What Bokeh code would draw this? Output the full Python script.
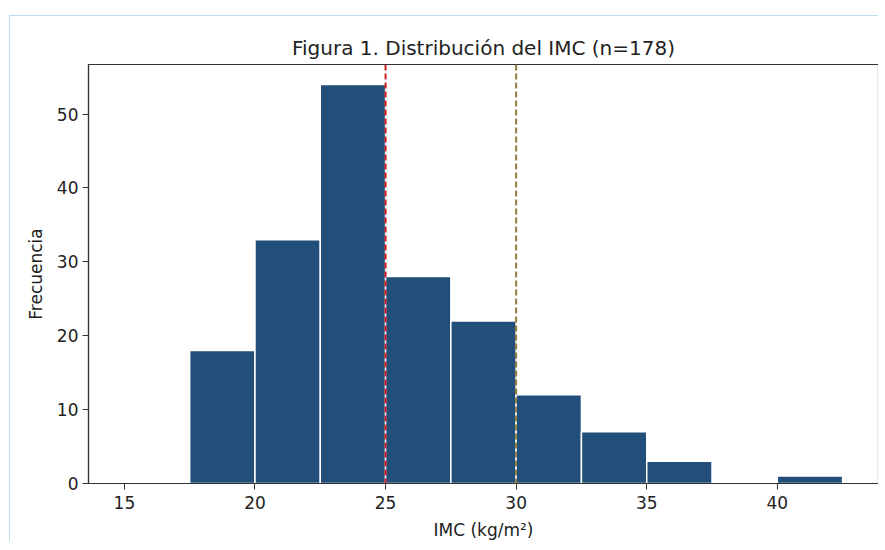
from bokeh.plotting import figure
from bokeh.models import Span, Range1d, FixedTicker, InlineStyleSheet
from bokeh.embed import file_html
from bokeh.resources import INLINE

# Data
bin_edges = [17.5, 20.0, 22.5, 25.0, 27.5, 30.0, 32.5, 35.0, 37.5, 40.0, 42.5]
counts = [18, 33, 54, 28, 22, 12, 7, 3, 0, 1]
x_ticks = [15, 20, 25, 30, 35, 40]
y_ticks = [0, 10, 20, 30, 40, 50]
ref_lines = [25, 30]
ref_colors = ["#c81e1e", "#8f7a3a"]

title = "Figura 1. Distribución del IMC (n=178)"
xlabel = "IMC (kg/m²)"
ylabel = "Frecuencia"

FONT = "DejaVu Sans"

p = figure(width=869, height=526, output_backend="svg", toolbar_location=None,
           x_range=Range1d(13.625, 43.875), y_range=Range1d(0, 56.7),
           title=title, min_border_left=78, min_border_right=1,
           min_border_top=48, min_border_bottom=58)

p.stylesheets = [InlineStyleSheet(css=":host { border-left: 1px solid #b6e0ec; border-top: 1px solid #b6e0ec; margin-left: 9px; margin-top: 15px; }")]

p.title.text_font = FONT
p.title.text_font_size = "20px"
p.title.text_font_style = "normal"
p.title.align = "center"
p.title.text_color = "#222222"
p.title.offset = 0
p.title.standoff = 9

p.quad(left=bin_edges[:-1], right=bin_edges[1:], bottom=0, top=counts,
       fill_color="#224e7a", line_color="white", line_width=1.5)

for xv, c in zip(ref_lines, ref_colors):
    p.add_layout(Span(location=xv, dimension="height", line_color=c,
                      line_width=2, line_dash="6 3"))

p.xgrid.visible = False
p.ygrid.visible = False
p.outline_line_color = "#333333"
p.outline_line_width = 1.2
p.background_fill_color = "white"
p.border_fill_color = "white"

for ax in (p.xaxis[0], p.yaxis[0]):
    ax.axis_line_color = "#333333"
    ax.axis_line_width = 1.2
    ax.major_tick_line_color = "#333333"
    ax.major_tick_in = 0
    ax.major_tick_out = 6
    ax.minor_tick_line_color = None
    ax.major_label_text_font = FONT
    ax.major_label_text_font_size = "17px"
    ax.major_label_text_color = "#222222"
    ax.axis_label_text_font = FONT
    ax.axis_label_text_font_size = "17px"
    ax.axis_label_text_font_style = "normal"
    ax.axis_label_text_color = "#222222"

p.xaxis.ticker = FixedTicker(ticks=x_ticks)
p.yaxis.ticker = FixedTicker(ticks=y_ticks)
p.xaxis.axis_label = xlabel
p.yaxis.axis_label = ylabel
p.xaxis.major_label_standoff = 6
p.yaxis.major_label_standoff = 4
p.xaxis.axis_label_standoff = 8
p.yaxis.axis_label_standoff = 8

open("out.html", "w").write(file_html(p, INLINE))
